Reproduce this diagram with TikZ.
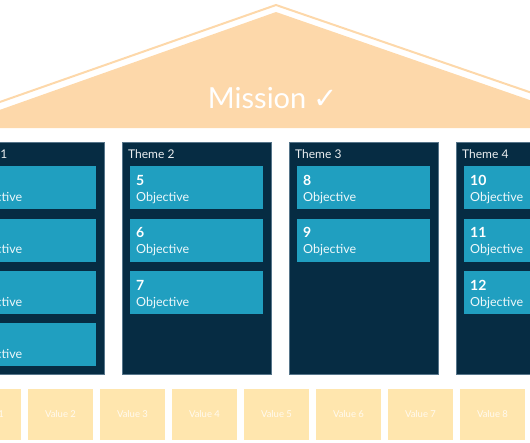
\documentclass[tikz,border=0pt]{standalone}
\usepackage{fontspec}
\setmainfont{Lato}
\newfontfamily\symfont{DejaVu Sans}
\usetikzlibrary{positioning, calc}

\definecolor{roofpeach}{HTML}{FDD8AA}
\definecolor{navy}{HTML}{062C43}
\definecolor{navyedge}{HTML}{56758A}
\definecolor{objteal}{HTML}{209FC0}
\definecolor{valyellow}{HTML}{FFE6AE}

\begin{document}
\begin{tikzpicture}[
  x=1pt, y=-1pt,
  themecol/.style={draw=navyedge, line width=0.6pt, fill=navy, minimum width=149pt, minimum height=232pt, inner sep=0pt, anchor=north west},
  themelabel/.style={text=white!92!navy, font=\fontsize{12}{14}\selectfont, inner sep=0pt, anchor=base west},
  objbox/.style={fill=objteal, minimum height=43pt, text width=121pt, inner xsep=6pt, inner ysep=0pt, align=left, text=white!92!objteal, font=\fontsize{12.5}{16}\selectfont},
  valbox/.style={fill=valyellow, minimum width=65pt, minimum height=51pt, inner sep=0pt, text=white!80!valyellow, font=\fontsize{9.5}{11}\selectfont},
  node distance=9pt,
]
\newcommand{\objnum}[1]{{\color{white}\fontsize{14}{16}\selectfont\bfseries\rule{0pt}{13.3pt}#1}}

\useasboundingbox (0,0) rectangle (530,442);
\clip (0,0) rectangle (530,442);

%% ============ ROOF ============
\fill[roofpeach] (-40,124) -- (276,12) -- (570,114) -- (570,128) -- (-40,128) -- cycle;
\draw[roofpeach, line width=2pt] (-40,116) -- (276,5) -- (570,106);
\node[text=white, font=\fontsize{29}{32}\selectfont, anchor=base] (mission) at (273,108)
  {Mission {\symfont\fontsize{29}{32}\selectfont ✓}};

%% ============ THEME COLUMNS ============
\node[themecol] (t1) at (-45,142) {};
\node[themecol] (t2) at (122,142) {};
\node[themecol] (t3) at (289,142) {};
\node[themecol] (t4) at (456,142) {};

\node[themelabel] (l1) at ($(t1.north west)+(6,16)$) {Theme 1};
\node[themelabel] (l2) at ($(t2.north west)+(6,16)$) {Theme 2};
\node[themelabel] (l3) at ($(t3.north west)+(6,16)$) {Theme 3};
\node[themelabel] (l4) at ($(t4.north west)+(6,16)$) {Theme 4};

%% ---- objectives, theme 1 ----
\node[objbox, anchor=north west] (o1) at ($(t1.north west)+(8,24)$) {\objnum{1}\\Objective};
\node[objbox, below=of o1] (o2) {\objnum{2}\\Objective};
\node[objbox, below=of o2] (o3) {\objnum{3}\\Objective};
\node[objbox, below=of o3] (o4) {\objnum{4}\\Objective};

%% ---- objectives, theme 2 ----
\node[objbox, anchor=north west] (o5) at ($(t2.north west)+(8,24)$) {\objnum{5}\\Objective};
\node[objbox, below=of o5] (o6) {\objnum{6}\\Objective};
\node[objbox, below=of o6] (o7) {\objnum{7}\\Objective};

%% ---- objectives, theme 3 ----
\node[objbox, anchor=north west] (o8) at ($(t3.north west)+(8,24)$) {\objnum{8}\\Objective};
\node[objbox, below=of o8] (o9) {\objnum{9}\\Objective};

%% ---- objectives, theme 4 ----
\node[objbox, anchor=north west] (o10) at ($(t4.north west)+(8,24)$) {\objnum{10}\\Objective};
\node[objbox, below=of o10] (o11) {\objnum{11}\\Objective};
\node[objbox, below=of o11] (o12) {\objnum{12}\\Objective};

%% ============ VALUES ============
\foreach \i in {1,...,8}{
  \node[valbox] (v\i) at ({-11.5+72*(\i-1)},414.5) {Value \i};
}

\end{tikzpicture}
\end{document}
